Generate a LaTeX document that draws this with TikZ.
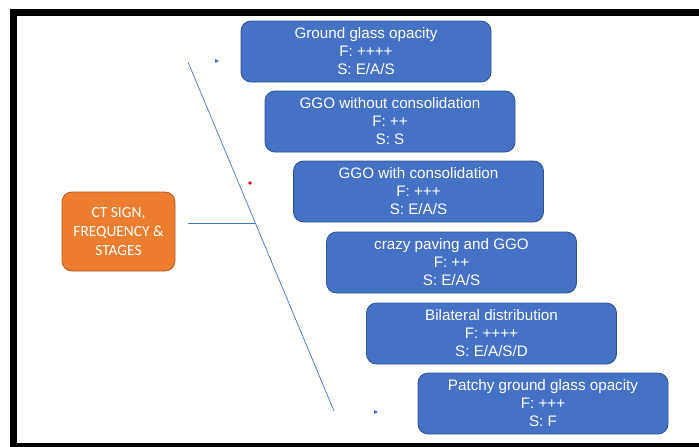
\documentclass[tikz,border=0pt]{standalone}
\usepackage{fontspec}
\usetikzlibrary{calc}
\setmainfont{Liberation Sans}
\newfontfamily\calib{Carlito}
\definecolor{boxblue}{HTML}{4472C4}
\definecolor{boxedge}{HTML}{2F528F}
\definecolor{orfill}{HTML}{ED7D31}
\definecolor{oredge}{HTML}{AE5A21}
\tikzset{
  sbox/.style={draw=boxedge, line width=0.8pt, fill=boxblue, rounded corners=10pt, text=white,
    minimum width=250pt, minimum height=61pt, align=center, inner sep=0pt,
    font=\fontsize{15.2}{18}\selectfont},
  ctbox/.style={draw=oredge, line width=0.8pt, fill=orfill, rounded corners=10pt, text=white,
    minimum width=113pt, minimum height=79pt, align=center, inner sep=0pt,
    font=\calib\fontsize{15.4}{19}\selectfont},
  conn/.style={draw=boxblue, line width=0.7pt},
  tri/.style={fill=boxblue}
}
\begin{document}
\begin{tikzpicture}[x=1pt,y=-1pt]
\useasboundingbox (0,0) rectangle (699,447);
% frame
\fill[black] (10,9) rectangle (699,16);
\fill[black] (10,9) rectangle (17,447);
\fill[black] (10,443) rectangle (699,447);
% boxes
\node[sbox] (b1) at (366,51.5) {Ground glass opacity\\F: ++++\\S: E/A/S};
\node[sbox] (b2) at (390,121.5) {GGO without consolidation\\F: ++\\S: S};
\node[sbox] (b3) at (418.5,191.5) {GGO with consolidation\\F: +++\\S: E/A/S};
\node[sbox] (b4) at (451.5,262.5) {crazy paving and GGO\\F: ++\\S: E/A/S};
\node[sbox] (b5) at (491.5,333.5) {Bilateral distribution\\F: ++++\\S: E/A/S/D};
\node[sbox] (b6) at (543,403.5) {Patchy ground glass opacity\\F: +++\\S: F};
\node[ctbox] (ct) at (118.5,231.5) {CT SIGN,\\FREQUENCY \&\\STAGES};
% spine
\coordinate (top) at (188,62);
\coordinate (bot) at (334,411);
\coordinate (hl) at (188,223);
\coordinate (hr) at (255.4,223);
\draw[conn] (top) -- (bot);
\draw[conn] (hl) -- (hr);
% markers
\fill[tri] (215,59) -- (219,61) -- (215,63) -- cycle;
\fill[tri] (374,410) -- (378,412) -- (374,414) -- cycle;
\fill[red] (250,183) circle (1.8);
\end{tikzpicture}
\end{document}
